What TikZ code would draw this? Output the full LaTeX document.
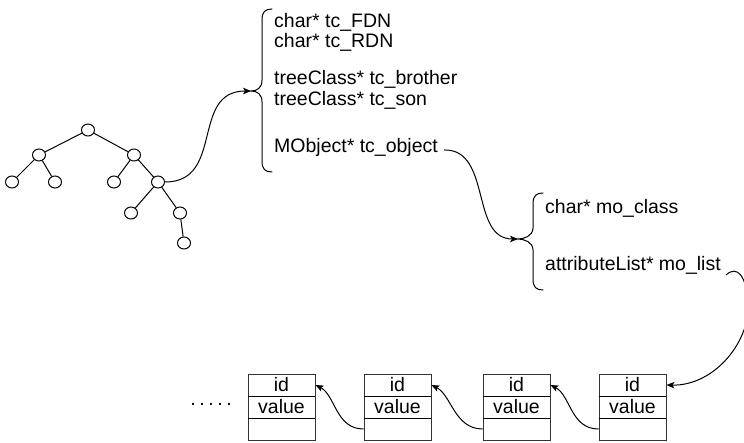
\documentclass[tikz,border=0pt]{standalone}
\usepackage{fontspec}
\setmainfont{Liberation Sans}
\usetikzlibrary{arrows.meta,shapes.geometric}
\begin{document}
\begin{tikzpicture}[x=1pt,y=-1pt,
  treenode/.style={draw,ellipse,minimum width=13pt,minimum height=12pt,inner sep=0pt,line width=1pt},
  edge/.style={line width=1pt},
  field/.style={anchor=base west,inner sep=0pt,font=\fontsize{19.5}{21}\selectfont},
  brace/.style={line width=1pt,line cap=round},
  link/.style={line width=1pt,-{Stealth[length=8pt,width=6.5pt,inset=2pt]}},
  cell/.style={draw=black!80,line width=0.9pt,minimum width=67pt,minimum height=22pt,inner sep=0pt,font=\fontsize{19.5}{21}\selectfont},
  divider/.style={line width=1.8pt},
]
\useasboundingbox (0,0) rectangle (744,443);
\clip (0,0) rectangle (744,443);

% the tree
\node[treenode] (r)  at (88,130) {};
\node[treenode] (a)  at (39,155) {};
\node[treenode] (b)  at (134,155) {};
\node[treenode] (a1) at (12,182) {};
\node[treenode] (a2) at (55,182) {};
\node[treenode] (b1) at (114,182) {};
\node[treenode] (b2) at (158,182) {};
\node[treenode] (c1) at (131,213) {};
\node[treenode] (c2) at (180,213) {};
\node[treenode] (d1) at (184,243) {};
\draw[edge] (r) -- (a);
\draw[edge] (r) -- (b);
\draw[edge] (a) -- (a1);
\draw[edge] (a) -- (a2);
\draw[edge] (b) -- (b1);
\draw[edge] (b) -- (b2);
\draw[edge] (b2) -- (c1);
\draw[edge] (b2) -- (c2);
\draw[edge] (c2) -- (d1);

% treeClass fields
\coordinate (tip1) at (251,91);
\draw[brace] (272,9) .. controls (265,9) and (262,12) .. (262,20) -- (262,80)
  .. controls (262,88) and (257,91) .. (tip1)
  .. controls (257,91) and (262,94) .. (262,102) -- (262,161)
  .. controls (262,169) and (265,172) .. (272,172);
\node[field] (fdn)  at (274,28)  {char* tc\_FDN};
\node[field] (rdn)  at (274,48)  {char* tc\_RDN};
\node[field] (bro)  at (274,85)  {treeClass* tc\_brother};
\node[field] (son)  at (274,106) {treeClass* tc\_son};
\node[field] (obj)  at (274,153) {MObject* tc\_object};

% MObject fields
\coordinate (tip2) at (518,239);
\draw[brace] (543,193) .. controls (536,193) and (533,196) .. (533,204) -- (533,228)
  .. controls (533,236) and (524,239) .. (tip2)
  .. controls (524,239) and (533,242) .. (533,250) -- (533,279)
  .. controls (533,287) and (536,290) .. (543,290);
\node[field] (cls)  at (545,214) {char* mo\_class};
\node[field] (lst)  at (545,271) {attributeList* mo\_list};

% attribute list
\foreach \i/\x in {1/281.5,2/397.5,3/516.5,4/632.5}{
  \node[cell] (id\i)  at (\x,385) {id};
  \node[cell] (val\i) at (\x,407) {value};
  \node[cell] (nx\i)  at (\x,429) {};
  \draw[divider] (id\i.south west) -- (id\i.south east);
  \draw[divider] (val\i.south west) -- (val\i.south east);
}
\node[anchor=base,inner sep=0pt,font=\fontsize{19.5}{21}\selectfont] (more) at (211,405)
  {.\hspace{3.6pt}.\hspace{3.6pt}.\hspace{3.6pt}.\hspace{3.6pt}.};

% connectors
\draw[link] (b2.east) .. controls (225,182) and (190,91) .. (tip1);
\draw[link] ([xshift=6pt,yshift=-2pt]obj.east) .. controls (492,149) and (470,239) .. (tip2);
\draw[link] ([xshift=5pt,yshift=-4pt]lst.base east) .. controls (738,264) and (746,278) .. (748,300)
  .. controls (752,340) and (715,386) .. (id4.east);
\draw[link] (nx4.west) .. controls +(-28,0) and +(20,10) .. (id3.east);
\draw[link] (nx3.west) .. controls +(-28,0) and +(20,10) .. (id2.east);
\draw[link] (nx2.west) .. controls +(-28,0) and +(20,10) .. (id1.east);
\end{tikzpicture}
\end{document}
